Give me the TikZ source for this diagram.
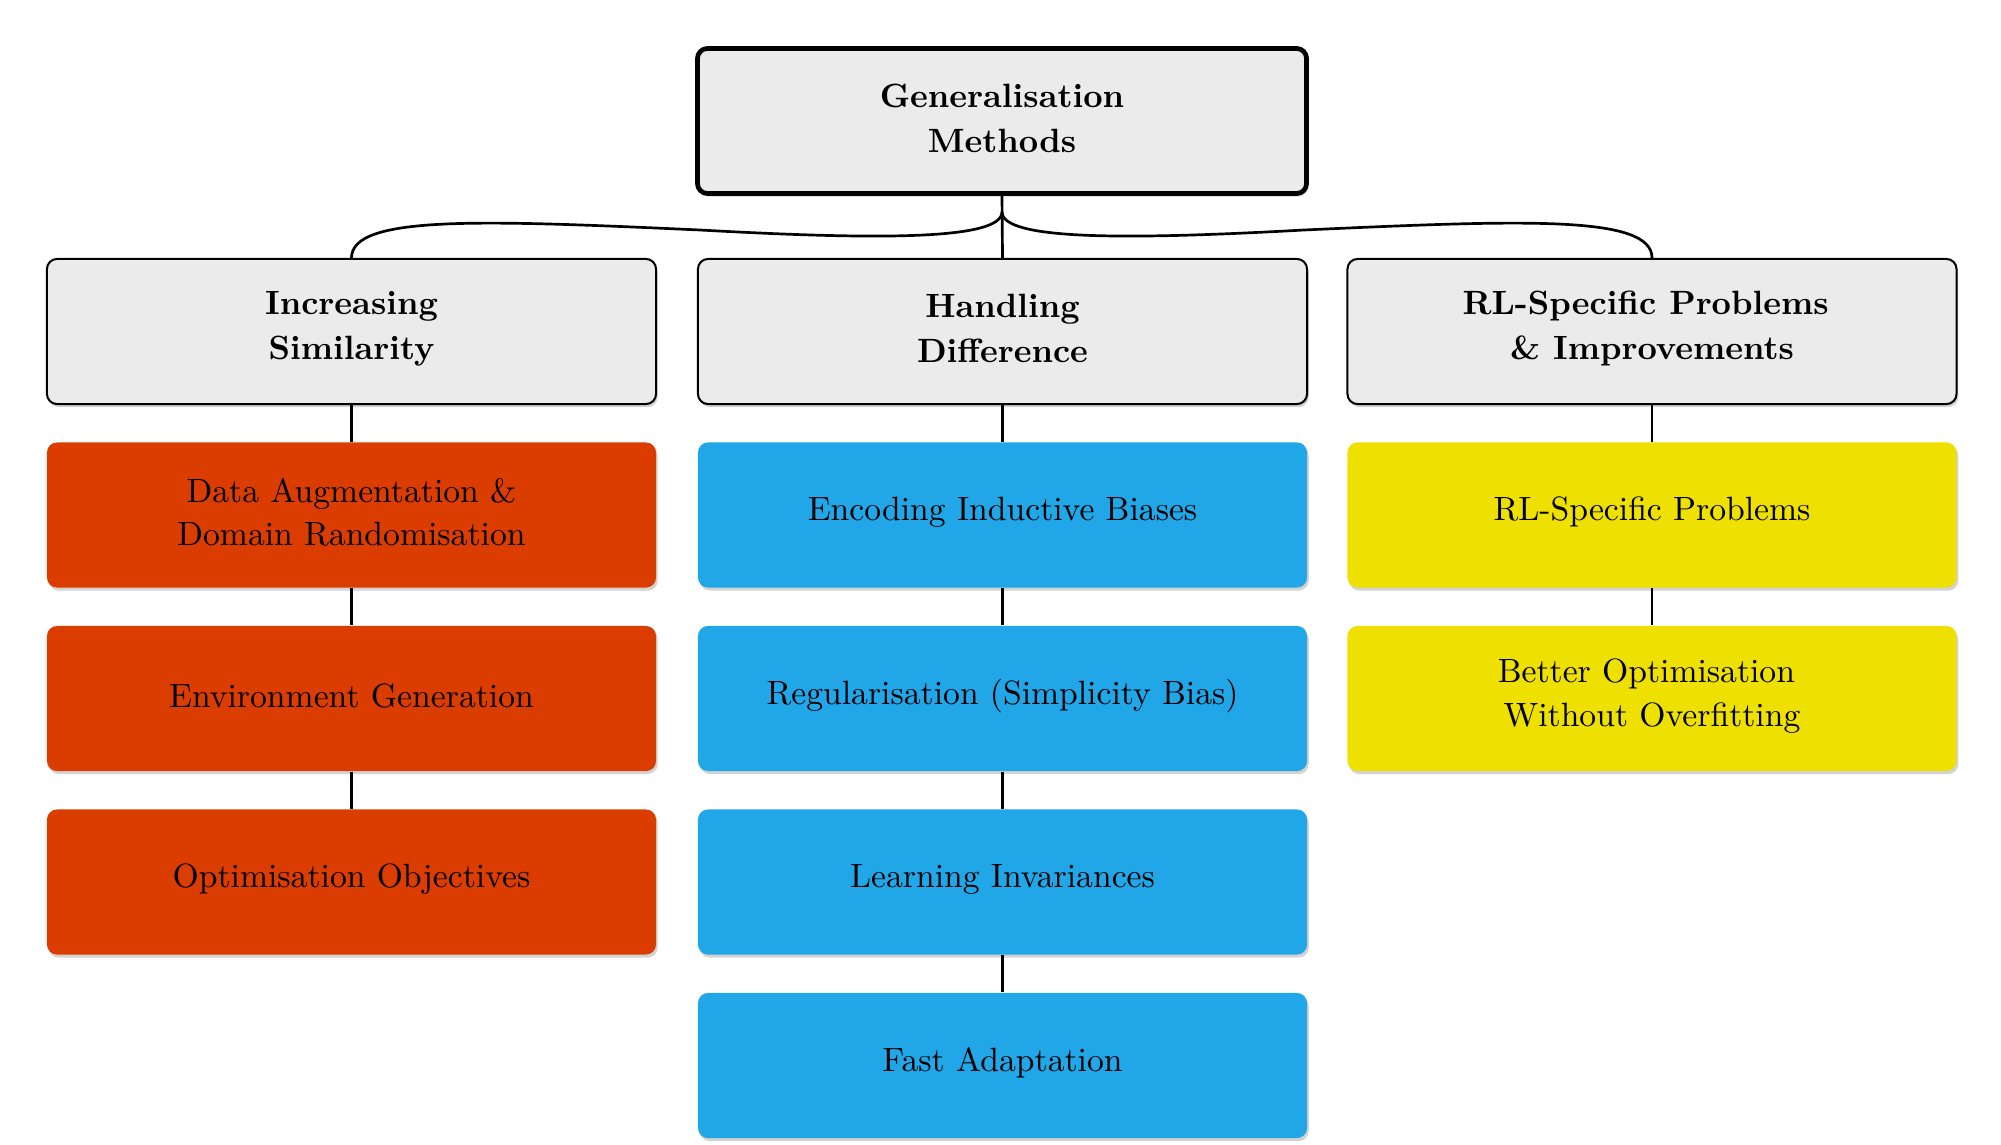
\documentclass[tikz,border=0pt]{standalone}
\usetikzlibrary{shadows}
\definecolor{boxgray}{HTML}{EBEBEB}
\definecolor{simred}{HTML}{DB3D00}
\definecolor{diffblue}{HTML}{21A6E8}
\definecolor{rlyellow}{HTML}{EEE000}
\begin{document}
\begin{tikzpicture}[x=0.297pt,y=-0.297pt,
  base/.style={rectangle, rounded corners=3pt, minimum width=180.9pt, minimum height=43.1pt,
    inner sep=0pt,
    drop shadow={shadow xshift=0.5pt, shadow yshift=-0.9pt, opacity=0.35}},
  boxtext/.style={align=center, inner sep=0pt, yshift=0.8pt, font=\fontsize{10}{13}\selectfont},
  headtext/.style={boxtext, font=\fontsize{10}{13.3}\selectfont\bfseries},
  txt/.style={label={[boxtext]center:#1}},
  htxt/.style={label={[headtext]center:#1}},
  rootbox/.style={base, fill=boxgray, draw=black, line width=1.4pt},
  catbox/.style={base, fill=boxgray, draw=black, line width=0.6pt},
  redbox/.style={base, fill=simred},
  bluebox/.style={base, fill=diffblue},
  yellowbox/.style={base, fill=rlyellow},
  link/.style={draw=black, line width=0.8pt}]
\useasboundingbox (0,0) rectangle (2001,1145);

\node[rootbox, htxt={Generalisation\\Methods}] (root) at (1002,121) {};

\node[catbox, htxt={Increasing\\Similarity}] (c1) at (351.5,331.5) {};
\node[catbox, htxt={Handling\\Difference}] (c2) at (1002.5,331.5) {};
\node[catbox, htxt={RL-Specific Problems\kern3.8pt\\\& Improvements}] (c3) at (1652,331.5) {};

\node[redbox, txt={Data Augmentation \&\\Domain Randomisation}] (r1) at (351.5,515) {};
\node[redbox, txt={Environment Generation}] (r2) at (351.5,698.5) {};
\node[redbox, txt={Optimisation Objectives}] (r3) at (351.5,882) {};

\node[bluebox, txt={Encoding Inductive Biases}] (b1) at (1002.5,515) {};
\node[bluebox, txt={Regularisation (Simplicity Bias)}] (b2) at (1002.5,698.5) {};
\node[bluebox, txt={Learning Invariances}] (b3) at (1002.5,882) {};
\node[bluebox, txt={Fast Adaptation}] (b4) at (1002.5,1065.5) {};

\node[yellowbox, txt={RL-Specific Problems}] (y1) at (1652,515) {};
\node[yellowbox, txt={Better Optimisation\kern3.33pt\\Without Overfitting}] (y2) at (1652,698.5) {};

\coordinate (split) at ([yshift=-4.75pt]root.south);
\draw[link] (root.south) -- (c2.north);
\draw[link] (split) .. controls (1002,240) and (880,240) .. (700,230)
  .. controls (480,220) and (351.5,215) .. (c1.north);
\draw[link] (split) .. controls (1002,240) and (1124,240) .. (1304,230)
  .. controls (1524,220) and (1652,215) .. (c3.north);

\draw[link] (c1.south) -- (r1.north);
\draw[link] (r1.south) -- (r2.north);
\draw[link] (r2.south) -- (r3.north);
\draw[link] (c2.south) -- (b1.north);
\draw[link] (b1.south) -- (b2.north);
\draw[link] (b2.south) -- (b3.north);
\draw[link] (b3.south) -- (b4.north);
\draw[link] (c3.south) -- (y1.north);
\draw[link] (y1.south) -- (y2.north);
\end{tikzpicture}
\end{document}
